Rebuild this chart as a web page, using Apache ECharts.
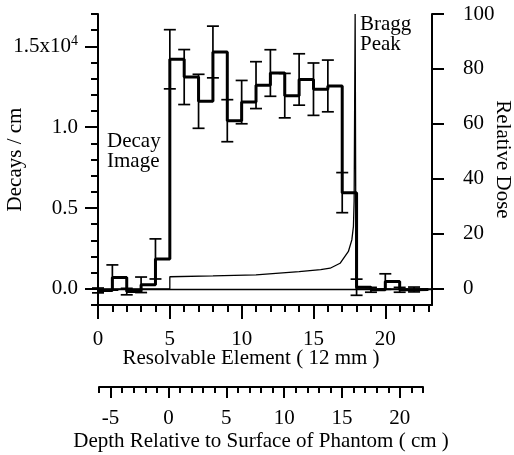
<!DOCTYPE html>
<html><head><meta charset="utf-8">
<script src="https://cdn.jsdelivr.net/npm/echarts@6/dist/echarts.min.js"></script>
<style>html,body{margin:0;padding:0;background:#fff;}#c{width:514px;height:455px;}</style>
</head><body><div id="c"></div>
<script>
// ---- data ----
const elements = [0,1,2,3,4,5,6,7,8,9,10,11,12,13,14,15,16,17,18,19,20,21,22];
const decays = [-100,700,-170,250,1850,14200,13100,11600,14650,10400,11550,12600,13350,11950,12950,12350,12550,5950,100,-60,450,-60,-40];
const decayErrors = [150,780,200,480,1240,1830,1700,1670,1600,1300,1340,1450,1440,1375,1590,1620,1600,1240,500,150,480,150,150];
const lastEdge = 23;
const doseElement = [0,5,5,8,11,14,15.5,16.16,16.85,17.43,17.67,17.78,17.83,17.9,17.96,23.25];
const relativeDose = [0,0,4.4,4.7,5.1,6.3,7.0,7.5,9.3,13.6,17.8,22.7,32,100,0,0];
const decayTicks = [0,5000,10000,15000];
const decayTickLabels = ['0.0','0.5','1.0','1.5x10^4'];
const elementTicks = [0,5,10,15,20];
const depthTicks = [-5,0,5,10,15,20];
const doseTicks = [0,20,40,60,80,100];

const FONT = 'Liberation Serif';
const black = '#000';
function range(a,b,s){const r=[];for(let v=a;v<=b+1e-9;v+=s)r.push(v);return r;}

const stepData = elements.map((e,i)=>[e,decays[i]]);
stepData.push([lastEdge, decays[decays.length-1]]);
const errData = elements.map((e,i)=>[e,decays[i],decayErrors[i]]);
const doseData = doseElement.map((e,i)=>[e,relativeDose[i]]);

const chart = echarts.init(document.getElementById('c'), null, {renderer:'canvas'});
const lineStyle = {color:black, width:2};
const labelBase = {color:black, fontFamily:FONT, fontSize:21};

chart.setOption({
  animation:false,
  backgroundColor:'#fff',
  grid:[
    {left:98, right:82, top:14, bottom:150, outerBoundsMode:'none', containLabel:false},
    {left:99, right:91, top:379, height:8, outerBoundsMode:'none', containLabel:false}
  ],
  xAxis:[
    {gridIndex:0, type:'value', position:'bottom', min:0, max:23.25,
     axisLine:{show:true, onZero:false, lineStyle},
     axisTick:{show:true, customValues:elementTicks, length:14, lineStyle:{color:black,width:2}},
     axisLabel:Object.assign({customValues:elementTicks, margin:24}, labelBase),
     splitLine:{show:false},
     name:'Resolvable Element ( 12 mm )', nameLocation:'middle', nameGap:43, nameMoveOverlap:false,
     nameTextStyle:Object.assign({padding:[0,28,0,0]}, labelBase)},
    {gridIndex:0, type:'value', position:'bottom', min:0, max:23.25,
     axisLine:{show:false, onZero:false},
     axisTick:{show:true, customValues:range(0,23,1), length:7, lineStyle:{color:black,width:2}},
     axisLabel:{show:false}, splitLine:{show:false}},
    {gridIndex:1, type:'value', position:'bottom', min:-6, max:22,
     axisLine:{show:true, onZero:false, lineStyle},
     axisTick:{show:true, customValues:depthTicks, length:11, lineStyle:{color:black,width:2}},
     axisLabel:Object.assign({customValues:depthTicks, margin:21}, labelBase),
     splitLine:{show:false},
     name:'Depth Relative to Surface of Phantom ( cm )', nameLocation:'middle', nameGap:44, nameMoveOverlap:false,
     nameTextStyle:Object.assign({}, labelBase)},
    {gridIndex:1, type:'value', position:'bottom', min:-6, max:22,
     axisLine:{show:false, onZero:false},
     axisTick:{show:true, customValues:range(-6,22,1), length:6, lineStyle:{color:black,width:2}},
     axisLabel:{show:false}, splitLine:{show:false}}
  ],
  yAxis:[
    {gridIndex:0, type:'value', position:'left', min:-1000, max:17000,
     axisLine:{show:true, onZero:false, lineStyle},
     axisTick:{show:true, customValues:decayTicks, length:13, lineStyle:{color:black,width:2}},
     axisLabel:Object.assign({customValues:decayTicks, margin:20,
       formatter:function(v){const i=decayTicks.indexOf(v);const s=decayTickLabels[i];
         if(s.indexOf('^')>=0){const p=s.split('^');return '{a|'+p[0]+'}{s|'+p[1]+'}';}
         return s;},
       rich:{a:{fontFamily:FONT,fontSize:21,color:black},s:{fontFamily:FONT,fontSize:14,color:black,verticalAlign:'top',padding:[0,0,10,0]}}
     }, labelBase),
     splitLine:{show:false},
     name:'Decays / cm', nameLocation:'middle', nameRotate:90, nameGap:72, nameMoveOverlap:false,
     nameTextStyle:Object.assign({}, labelBase)},
    {gridIndex:0, type:'value', position:'left', min:-1000, max:17000,
     axisLine:{show:false, onZero:false},
     axisTick:{show:true, customValues:range(-1000,17000,1000), length:7, lineStyle:{color:black,width:2}},
     axisLabel:{show:false}, splitLine:{show:false}},
    {gridIndex:0, type:'value', position:'right', min:-5.88, max:100,
     axisLine:{show:true, onZero:false, lineStyle},
     axisTick:{show:true, customValues:doseTicks, length:12, lineStyle:{color:black,width:2}},
     axisLabel:Object.assign({customValues:doseTicks, margin:31}, labelBase),
     splitLine:{show:false},
     name:'Relative Dose', nameLocation:'middle', nameRotate:-90, nameGap:60, nameMoveOverlap:false,
     nameTextStyle:Object.assign({}, labelBase)},
    {gridIndex:1, type:'value', show:false, min:0, max:1}
  ],
  series:[
    {type:'line', name:'Relative Dose', xAxisIndex:0, yAxisIndex:2, data:doseData,
     symbol:'none', lineStyle:{color:black,width:1.3}, z:2,
     markLine:{silent:true, symbol:'none', label:{show:false},
       lineStyle:{color:black,width:1.3,type:'solid'}, data:[{yAxis:0}]}},
    {type:'line', name:'Decays', xAxisIndex:0, yAxisIndex:0, data:stepData, step:'end',
     symbol:'none', lineStyle:{color:black,width:3}, z:4},
    {type:'custom', name:'Error', xAxisIndex:0, yAxisIndex:0, data:errData, z:5,
     encode:{x:0,y:1},
     renderItem:function(params, api){
       const x=api.value(0), v=api.value(1), e=api.value(2);
       const t=api.coord([x,v+e]), b=api.coord([x,v-e]);
       const w=6, st={stroke:black,lineWidth:1.7};
       return {type:'group', children:[
         {type:'line', shape:{x1:t[0],y1:t[1],x2:b[0],y2:b[1]}, style:st},
         {type:'line', shape:{x1:t[0]-w,y1:t[1],x2:t[0]+w,y2:t[1]}, style:st},
         {type:'line', shape:{x1:b[0]-w,y1:b[1],x2:b[0]+w,y2:b[1]}, style:st}
       ]};
     }}
  ],
  graphic:[
    {type:'text', left:107, top:131, style:{text:'Decay\nImage', font:'21px "Liberation Serif"', fill:black, lineHeight:20}},
    {type:'text', left:360, top:14, style:{text:'Bragg\nPeak', font:'21px "Liberation Serif"', fill:black, lineHeight:20}}
  ]
});
</script></body></html>
